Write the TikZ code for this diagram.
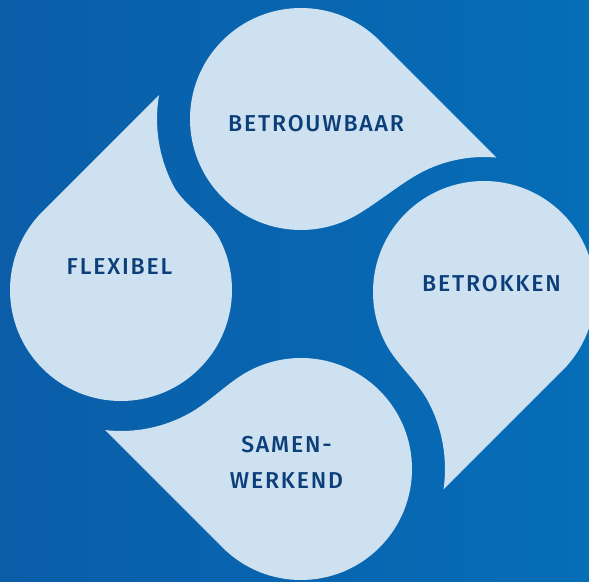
\documentclass[tikz,border=0pt]{standalone}
\usepackage{fontspec}
\setsansfont{Fira Sans}[BoldFont={Fira Sans Medium}, LetterSpace=8]
\definecolor{bgL}{HTML}{0B5DA8}
\definecolor{bgR}{HTML}{066DB7}
\definecolor{dropc}{HTML}{CDE1F0}
\definecolor{txtc}{HTML}{0C3F7A}
\newcommand{\dpr}{1.11}
\newcommand{\dpbeta}{16}
\newcommand{\dpk}{0.22}
% #1 ox, #2 oy, #3 nx, #4 ny (neighbour centre), #5 rotation, #6 gap radius
\newcommand{\drawdrop}[6]{%
\def\dpR{#6}%
\pgfmathsetmacro\dpqx{#1+\dpr*cos(#5+45)}%
\pgfmathsetmacro\dpqy{#2+\dpr*sin(#5+45)}%
\pgfmathsetmacro\dpux{cos(#5-45)}%
\pgfmathsetmacro\dpuy{sin(#5-45)}%
\pgfmathsetmacro\dpwx{\dpqx-#3}%
\pgfmathsetmacro\dpwy{\dpqy-#4}%
\pgfmathsetmacro\dpbb{\dpux*\dpwx+\dpuy*\dpwy}%
\pgfmathsetmacro\dpcc{\dpwx*\dpwx+\dpwy*\dpwy-\dpR*\dpR}%
\pgfmathsetmacro\dpt{-\dpbb-sqrt(\dpbb*\dpbb-\dpcc)}%
\pgfmathsetmacro\dptx{\dpqx+\dpt*\dpux}%
\pgfmathsetmacro\dpty{\dpqy+\dpt*\dpuy}%
\pgfmathsetmacro\dptau{atan2(\dpty-#4,\dptx-#3)}%
\pgfmathsetmacro\dpal{atan2(#4-#2,#3-#1)}%
\pgfmathsetmacro\dpaA{\dpal-\dpbeta}%
\pgfmathsetmacro\dpaB{\dpal+180-\dpbeta}%
\pgfmathsetmacro\dpswA{mod(\dpaA-(#5+45)+720,360)}%
\pgfmathsetmacro\dpswB{mod(\dpaB-\dptau+720,360)}%
\pgfmathsetmacro\dpax{#1+\dpr*cos(\dpaA)}%
\pgfmathsetmacro\dpay{#2+\dpr*sin(\dpaA)}%
\pgfmathsetmacro\dpcax{\dpax-\dpk*sin(\dpaA)}%
\pgfmathsetmacro\dpcay{\dpay+\dpk*cos(\dpaA)}%
\pgfmathsetmacro\dpbx{#3+\dpR*cos(\dpaB)}%
\pgfmathsetmacro\dpby{#4+\dpR*sin(\dpaB)}%
\pgfmathsetmacro\dpcbx{\dpbx-\dpk*sin(\dpaB)}%
\pgfmathsetmacro\dpcby{\dpby+\dpk*cos(\dpaB)}%
\fill[dropc] (\dptx,\dpty) -- (\dpqx,\dpqy)
  arc[start angle=#5+45, delta angle=\dpswA, radius=\dpr]
  .. controls (\dpcax,\dpcay) and (\dpcbx,\dpcby) .. (\dpbx,\dpby)
  arc[start angle=\dpaB, delta angle=-\dpswB, radius=\dpR] -- cycle;
}
\begin{document}
\begin{tikzpicture}[x=100pt,y=100pt,
  lbl/.style={text=txtc, font=\fontsize{23}{36}\selectfont\sffamily\bfseries, inner sep=0pt}]
\useasboundingbox (0,0) rectangle (5.89,5.81);
\clip (0,0) rectangle (5.89,5.81);
\shade[left color=bgL, right color=bgR] (0,0) rectangle (5.89,5.81);
% top, right, bottom, left drops
\drawdrop{3.01}{4.62}{4.84}{2.89}{0}{1.35}
\drawdrop{4.84}{2.89}{3.01}{1.12}{-90}{1.44}
\drawdrop{3.01}{1.12}{1.21}{2.91}{-180}{1.41}
\drawdrop{1.21}{2.91}{3.01}{4.62}{-270}{1.44}
\node[lbl] (betrouwbaar) at (3.16,4.575) {BETROUWBAAR};
\node[lbl] (flexibel) at (1.195,3.145) {FLEXIBEL};
\node[lbl] (betrokken) at (4.915,2.975) {BETROKKEN};
\node[lbl, align=center] (samenwerkend) at (2.865,1.185) {SAMEN-\\WERKEND};
\end{tikzpicture}
\end{document}
